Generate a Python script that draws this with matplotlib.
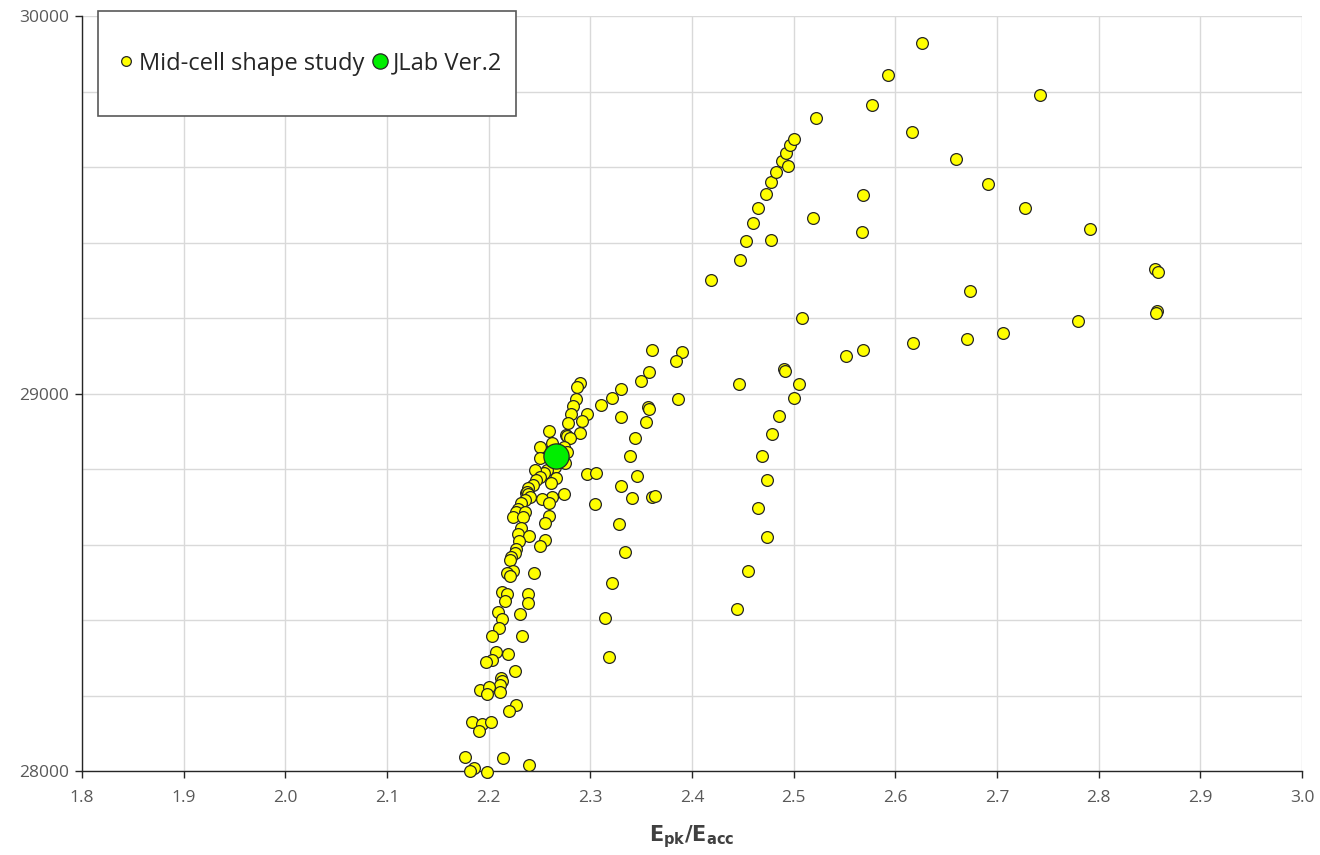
import matplotlib
matplotlib.use("Agg")
import matplotlib.pyplot as plt
from matplotlib.lines import Line2D
from matplotlib.patches import Rectangle
from matplotlib.ticker import MultipleLocator

plt.rcParams['font.family'] = ['Open Sans', 'DejaVu Sans']
plt.rcParams['mathtext.fontset'] = 'dejavusans'

# Mid-cell shape study (Epk/Eacc, y-value)
study_x = [
    2.626, 2.593, 2.577, 2.522, 2.742, 2.616, 2.660, 2.691, 2.728, 2.791,
    2.855, 2.858, 2.857, 2.856, 2.780, 2.706, 2.673, 2.670, 2.617, 2.568,
    2.551, 2.508, 2.568, 2.567, 2.519,
    2.419, 2.447, 2.453, 2.460, 2.465, 2.473, 2.478, 2.483, 2.489, 2.494,
    2.492, 2.496, 2.500, 2.478,
    2.446, 2.490, 2.491, 2.505, 2.500, 2.486, 2.479, 2.469, 2.474, 2.465,
    2.474, 2.455, 2.444,
    2.361, 2.390, 2.384, 2.358, 2.350, 2.330, 2.321, 2.310, 2.297, 2.292,
    2.330, 2.357, 2.358, 2.355, 2.386, 2.344, 2.339, 2.346, 2.330, 2.341,
    2.361, 2.364, 2.297, 2.306, 2.305, 2.328, 2.334, 2.321, 2.314, 2.318,
    2.290, 2.287, 2.286, 2.283, 2.281, 2.278, 2.276, 2.290, 2.277, 2.280,
    2.259, 2.250, 2.262, 2.274, 2.277, 2.250, 2.275, 2.265, 2.257, 2.254,
    2.246, 2.250, 2.247, 2.244, 2.239, 2.237, 2.238, 2.239, 2.266, 2.261,
    2.274, 2.262, 2.252, 2.259, 2.241, 2.236, 2.232, 2.229, 2.227, 2.224,
    2.236, 2.234, 2.259, 2.255, 2.232, 2.229, 2.240, 2.230, 2.255, 2.250,
    2.227, 2.226, 2.222, 2.221, 2.224, 2.218, 2.221, 2.245, 2.213, 2.218,
    2.216, 2.239, 2.239, 2.209, 2.213, 2.231, 2.210, 2.203, 2.233, 2.207,
    2.219, 2.203, 2.197, 2.226, 2.212, 2.213, 2.211, 2.211, 2.191, 2.200,
    2.198, 2.227, 2.220, 2.184, 2.193, 2.202, 2.190, 2.177, 2.214, 2.240,
    2.186, 2.182, 2.198,
]
study_y = [
    29928, 29843, 29765, 29731, 29790, 29694, 29621, 29556, 29491, 29435,
    29330, 29322, 29218, 29214, 29191, 29160, 29272, 29144, 29133, 29115,
    29099, 29201, 29525, 29428, 29466,
    29301, 29354, 29404, 29451, 29491, 29528, 29559, 29587, 29616, 29603,
    29638, 29659, 29675, 29407,
    29024, 29064, 29060, 29026, 28988, 28941, 28892, 28835, 28770, 28698,
    28620, 28530, 28430,
    29116, 29110, 29085, 29057, 29032, 29013, 28988, 28970, 28945, 28928,
    28938, 28963, 28960, 28924, 28985, 28882, 28835, 28782, 28755, 28723,
    28727, 28729, 28786, 28789, 28707, 28654, 28579, 28498, 28405, 28302,
    29029, 29018, 28985, 28966, 28945, 28921, 28890, 28895, 28887, 28883,
    28901, 28857, 28870, 28859, 28846, 28828, 28815, 28806, 28797, 28790,
    28797, 28780, 28771, 28758, 28749, 28736, 28740, 28733, 28775, 28762,
    28733, 28727, 28720, 28711, 28727, 28718, 28709, 28695, 28687, 28673,
    28687, 28673, 28675, 28658, 28645, 28628, 28623, 28610, 28612, 28596,
    28587, 28578, 28568, 28559, 28531, 28524, 28517, 28524, 28475, 28469,
    28451, 28469, 28446, 28422, 28402, 28416, 28378, 28358, 28358, 28314,
    28311, 28294, 28288, 28265, 28247, 28239, 28228, 28210, 28215, 28222,
    28204, 28175, 28159, 28131, 28125, 28131, 28106, 28037, 28034, 28015,
    28009, 28000, 27998,
]

# JLab Ver.2
jlab_x = [2.266]
jlab_y = [28834]

x_ticks = [1.8, 1.9, 2.0, 2.1, 2.2, 2.3, 2.4, 2.5, 2.6, 2.7, 2.8, 2.9, 3.0]
y_ticks = [28000, 29000, 30000]

fig = plt.figure(figsize=(13.2, 8.55), dpi=100)
ax = fig.add_axes([82 / 1320, 1 - 771 / 855, 1220 / 1320, 755 / 855])

ax.set_xlim(1.8, 3.0)
ax.set_ylim(28000, 30000)
ax.set_xticks(x_ticks)
ax.set_xticklabels([f"{v:.1f}" for v in x_ticks])
ax.set_yticks(y_ticks)
ax.set_yticklabels([str(v) for v in y_ticks])
ax.yaxis.set_minor_locator(MultipleLocator(200))

ax.grid(True, which='major', color='#d9d9d9', linewidth=1.0, zorder=0)
ax.grid(True, which='minor', axis='y', color='#d9d9d9', linewidth=1.0, zorder=0)
ax.set_axisbelow(True)

for s in ['top', 'right']:
    ax.spines[s].set_visible(False)
for s in ['left', 'bottom']:
    ax.spines[s].set_color('#262626')
    ax.spines[s].set_linewidth(1.0)

ax.tick_params(axis='both', which='major', direction='out', length=5,
               width=1, color='#262626', labelsize=12.5, labelcolor='#595959')
ax.tick_params(axis='y', which='minor', length=0)
ax.tick_params(axis='x', pad=9)
ax.tick_params(axis='y', pad=4)

ax.scatter(study_x, study_y, s=72, c='#ffff00', edgecolors='#262626',
           linewidths=0.9, zorder=3, clip_on=False)
ax.scatter(jlab_x, jlab_y, s=330, c='#00ee00', edgecolors='#262626',
           linewidths=0.9, zorder=4, clip_on=False)

ax.set_xlabel(r'$\mathbf{E_{pk}/E_{acc}}$', fontsize=15, color='#404040',
              labelpad=12)

# legend frame
x0, y0 = 98 / 1320, 1 - 116 / 855
w, h = (516 - 98) / 1320, 105 / 855
fig.patches.append(Rectangle((x0, y0), w, h, transform=fig.transFigure,
                             facecolor='white', edgecolor='#595959',
                             linewidth=1.2, zorder=5))
handles = [
    Line2D([], [], linestyle='none', marker='o', markersize=7,
           markerfacecolor='#ffff00', markeredgecolor='#262626',
           markeredgewidth=0.9),
    Line2D([], [], linestyle='none', marker='o', markersize=11,
           markerfacecolor='#00ee00', markeredgecolor='#262626',
           markeredgewidth=0.9),
]
leg = fig.legend(handles, ['Mid-cell shape study', 'JLab Ver.2'],
                 loc='center', bbox_to_anchor=(x0 + w / 2 + 2 / 1320, y0 + h / 2),
                 bbox_transform=fig.transFigure, ncol=2, frameon=False,
                 fontsize=17, handletextpad=0.1, columnspacing=0.2,
                 handlelength=0.9, borderpad=0)
leg.set_zorder(6)
for t in leg.get_texts():
    t.set_color('#262626')

fig.savefig('out.png', dpi=100)
